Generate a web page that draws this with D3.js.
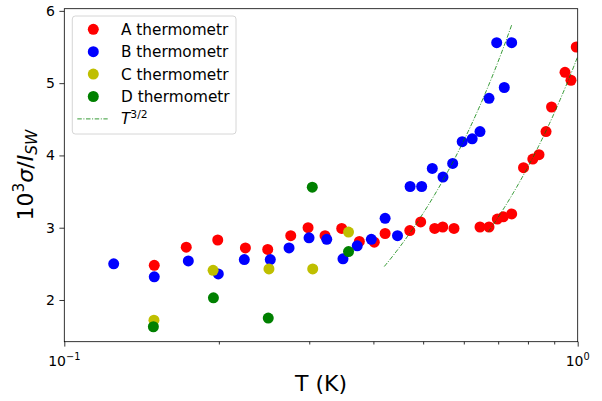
<!DOCTYPE html>
<html>
<head>
<meta charset="utf-8">
<script src="https://cdn.jsdelivr.net/npm/d3@7"></script>
<style>
  html, body { margin: 0; padding: 0; background: #fff; }
  svg { display: block; font-family: "DejaVu Sans", sans-serif; }
</style>
</head>
<body>
<svg id="chart" width="602" height="401"></svg>
<script>
// Temperatures (K) and 10^3 sigma / I_SW for each thermometer
const tempA = [0.1497, 0.1728, 0.1990, 0.2253, 0.2490, 0.2761, 0.2984, 0.3220, 0.3470, 0.3756,
               0.4016, 0.4216, 0.4709, 0.4945, 0.5266, 0.5459, 0.5742, 0.6452, 0.6718, 0.6973,
               0.7163, 0.7437, 0.7843, 0.8176, 0.8407, 0.8676, 0.8893, 0.9447, 0.9703, 0.9935];
const sigmaA = [2.48, 2.73, 2.83, 2.72, 2.70, 2.89, 3.00, 2.89, 2.99, 2.81,
                2.80, 2.92, 2.96, 3.08, 2.99, 3.01, 2.99, 3.01, 3.01, 3.12,
                3.15, 3.19, 3.83, 3.95, 4.01, 4.33, 4.67, 5.15, 5.04, 5.50];

const tempB = [0.1248, 0.1497, 0.1744, 0.1995, 0.2242, 0.2519, 0.2740, 0.2997, 0.3245, 0.3490,
               0.3720, 0.3963, 0.4216, 0.4457, 0.4716, 0.4967, 0.5209, 0.5465, 0.5708, 0.5957,
               0.6230, 0.6452, 0.6718, 0.6954, 0.7194, 0.7437];
const sigmaB = [2.50, 2.32, 2.54, 2.36, 2.56, 2.56, 2.72, 2.86, 2.84, 2.57,
                2.75, 2.84, 3.13, 2.89, 3.57, 3.57, 3.82, 3.70, 3.89, 4.19,
                4.23, 4.33, 4.79, 5.56, 4.94, 5.56];

const tempC = [0.1495, 0.1949, 0.2504, 0.3047, 0.3578];
const sigmaC = [1.72, 2.41, 2.43, 2.43, 2.94];

const tempD = [0.1491, 0.1952, 0.2496, 0.3041, 0.3578];
const sigmaD = [1.63, 2.03, 1.75, 3.56, 2.67];

// T^{3/2} guide curves: sigma = coef * T^1.5 over [tFrom, tTo]
const fitCoef = [9.05, 5.37];
const fitFrom = [0.42, 0.67];
const fitTo = [0.745, 1.0];

const seriesNames = ["A thermometr", "B thermometr", "C thermometr", "D thermometr"];
const seriesColors = ["#ff0000", "#0000ff", "#bfbf00", "#008000"];

const xTicksMajor = [0.1, 1];
const xTicksMinor = [0.2, 0.3, 0.4, 0.5, 0.6, 0.7, 0.8, 0.9];
const yTicks = [2, 3, 4, 5, 6];

const series = [
  { name: seriesNames[0], color: seriesColors[0], t: tempA, s: sigmaA },
  { name: seriesNames[1], color: seriesColors[1], t: tempB, s: sigmaB },
  { name: seriesNames[2], color: seriesColors[2], t: tempC, s: sigmaC },
  { name: seriesNames[3], color: seriesColors[3], t: tempD, s: sigmaD }
];

const svg = d3.select("#chart");
const margin = { left: 64.3, top: 8.7, right: 602 - 577.7, bottom: 401 - 341.7 };
const W = 602 - margin.left - margin.right;
const H = 401 - margin.top - margin.bottom;

const x = d3.scaleLog().domain([0.1, 1]).range([0, W]);
const y = d3.scaleLinear().domain([1.423, 6.03]).range([H, 0]);

const g = svg.append("g").attr("transform", `translate(${margin.left},${margin.top})`);

g.append("defs").append("clipPath").attr("id", "plotClip")
  .append("rect").attr("x", 0).attr("y", 0).attr("width", W).attr("height", H);

const plot = g.append("g").attr("clip-path", "url(#plotClip)");

// Data markers
series.forEach(sr => {
  plot.append("g").selectAll("circle")
    .data(sr.t.map((t, i) => [t, sr.s[i]]))
    .join("circle")
    .attr("cx", d => x(d[0]))
    .attr("cy", d => y(d[1]))
    .attr("r", 5.5)
    .attr("fill", sr.color);
});

// T^{3/2} guide curves
const dashStyle = "4.5,1.6,1,1.6";
const lineGen = d3.line().x(d => x(d[0])).y(d => y(d[1]));
fitCoef.forEach((c, k) => {
  const ts = d3.range(0, 101).map(i => fitFrom[k] + (fitTo[k] - fitFrom[k]) * i / 100);
  plot.append("path")
    .attr("d", lineGen(ts.map(t => [t, c * Math.pow(t, 1.5)])))
    .attr("fill", "none")
    .attr("stroke", "#008000")
    .attr("stroke-width", 0.8)
    .attr("stroke-dasharray", dashStyle);
});

// Axes
const xAxisMajor = d3.axisBottom(x).tickValues(xTicksMajor).tickSize(4.9).tickFormat("");
const xAxisMinor = d3.axisBottom(x).tickValues(xTicksMinor).tickSize(2.8).tickFormat("");
const yAxis = d3.axisLeft(y).tickValues(yTicks).tickSize(4.9).tickPadding(4.5).tickFormat(d3.format("d"));

const gx1 = g.append("g").attr("transform", `translate(0,${H})`).call(xAxisMajor);
const gx2 = g.append("g").attr("transform", `translate(0,${H})`).call(xAxisMinor);
const gy = g.append("g").call(yAxis);
[gx1, gx2, gy].forEach(a => {
  a.select(".domain").remove();
  a.selectAll(".tick line").attr("stroke", "#000").attr("stroke-width", 0.8);
});
gy.selectAll(".tick text")
  .attr("font-family", "DejaVu Sans").attr("font-size", 14).attr("fill", "#000");

// Log decade labels 10^-1 and 10^0
const decadeExp = ["\u22121", "0"];
xTicksMajor.forEach((v, i) => {
  const t = g.append("text")
    .attr("x", x(v)).attr("y", H + 24)
    .attr("text-anchor", "middle")
    .attr("font-size", 14).attr("fill", "#000");
  t.append("tspan").text("10");
  t.append("tspan").attr("font-size", 9.8).attr("dy", -6).text(decadeExp[i]);
});

// Frame
g.append("rect").attr("x", 0).attr("y", 0).attr("width", W).attr("height", H)
  .attr("fill", "none").attr("stroke", "#000").attr("stroke-width", 0.8);

// Axis labels
svg.append("text")
  .attr("x", margin.left + W / 2).attr("y", 391)
  .attr("text-anchor", "middle").attr("font-size", 22).attr("fill", "#000")
  .text("T (K)");

const yl = svg.append("text")
  .attr("transform", `translate(33,${margin.top + H / 2}) rotate(-90)`)
  .attr("text-anchor", "middle").attr("font-size", 22).attr("fill", "#000");
yl.append("tspan").text("10");
yl.append("tspan").attr("font-size", 15.4).attr("dy", -9).text("3");
yl.append("tspan").attr("dy", 9).attr("font-style", "italic").text("\u03c3");
yl.append("tspan").text("/");
yl.append("tspan").attr("font-style", "italic").text("I");
yl.append("tspan").attr("font-size", 15.4).attr("dy", 4).attr("font-style", "italic").text("SW");

// Legend
const lg = svg.append("g").attr("transform", "translate(72.3,16)");
lg.append("rect").attr("x", 0).attr("y", 0).attr("width", 163.7).attr("height", 118)
  .attr("rx", 3).attr("fill", "#fff").attr("fill-opacity", 0.8)
  .attr("stroke", "#cccccc").attr("stroke-width", 0.8);
const rowY = i => 13.3 + i * 22.4;
series.forEach((sr, i) => {
  lg.append("circle").attr("cx", 21).attr("cy", rowY(i)).attr("r", 5.5).attr("fill", sr.color);
  lg.append("text").attr("x", 48.7).attr("y", rowY(i) + 5.5)
    .attr("font-size", 15.3).attr("fill", "#000").text(sr.name);
});
lg.append("line").attr("x1", 5).attr("x2", 35.4).attr("y1", rowY(4)).attr("y2", rowY(4))
  .attr("stroke", "#008000").attr("stroke-width", 0.8).attr("stroke-dasharray", dashStyle);
const lt = lg.append("text").attr("x", 48.7).attr("y", rowY(4) + 5.5)
  .attr("font-size", 15.3).attr("fill", "#000");
lt.append("tspan").attr("font-style", "italic").text("T");
lt.append("tspan").attr("font-size", 10.7).attr("dy", -6).text("3/2");
</script>
</body>
</html>
